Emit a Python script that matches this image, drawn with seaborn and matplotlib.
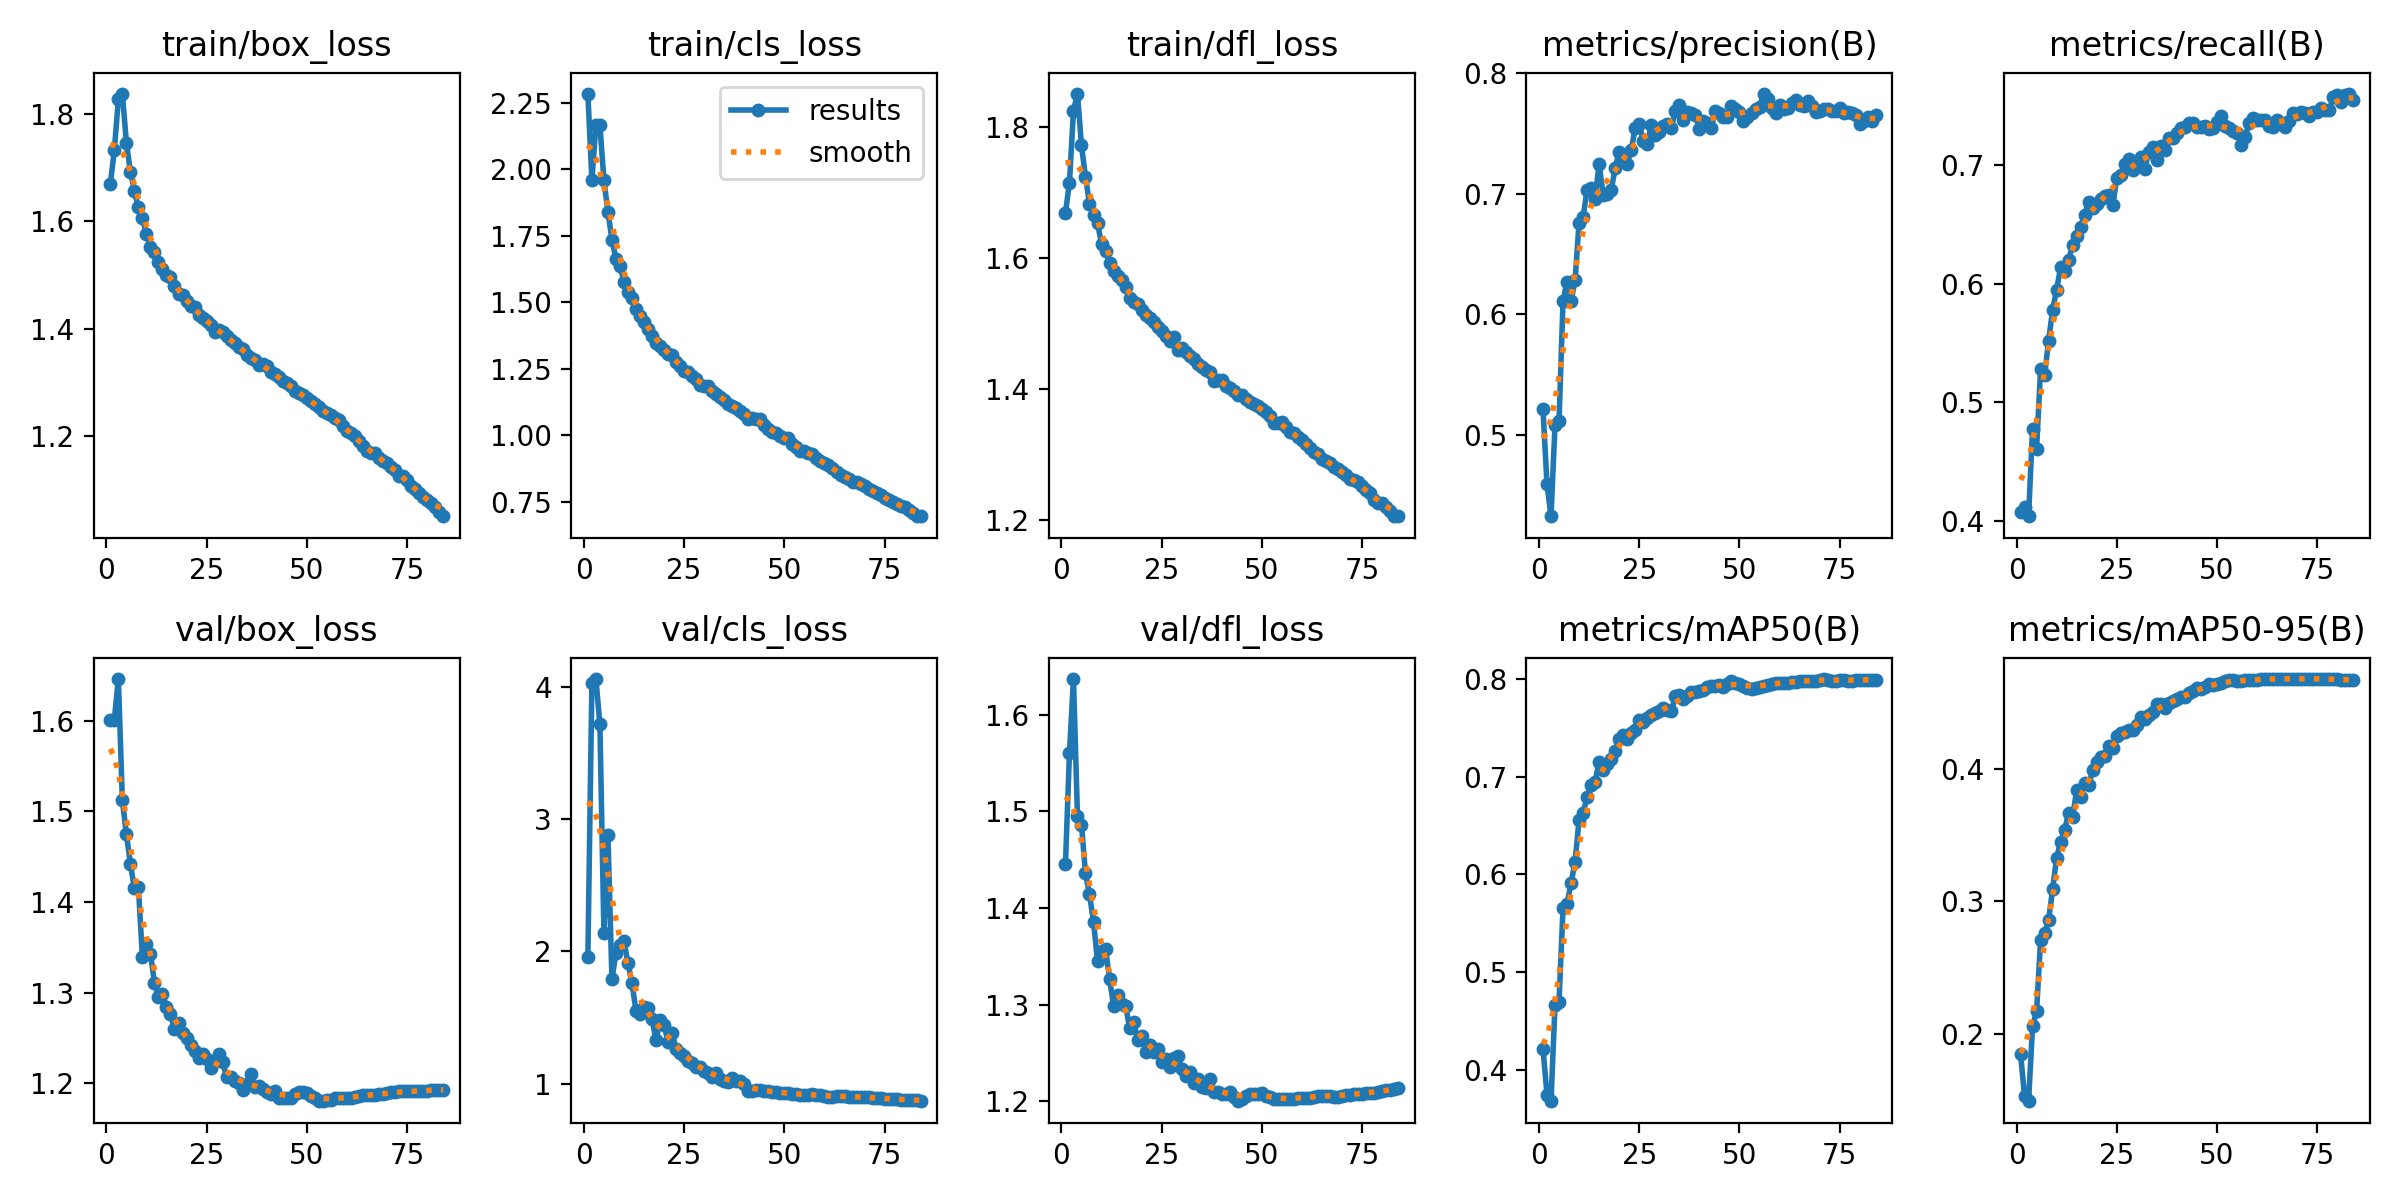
import numpy as np
import matplotlib
matplotlib.use("Agg")
import matplotlib.pyplot as plt
from matplotlib.ticker import MultipleLocator
import seaborn as sns

# epochs 1..84 of a YOLO training run
epochs = list(range(1, 85))

titles = ["train/box_loss", "train/cls_loss", "train/dfl_loss",
          "metrics/precision(B)", "metrics/recall(B)",
          "val/box_loss", "val/cls_loss", "val/dfl_loss",
          "metrics/mAP50(B)", "metrics/mAP50-95(B)"]

train_box_loss = [
    1.670, 1.733, 1.828, 1.838, 1.747, 1.693, 1.657, 1.626, 1.607, 1.576,
    1.553, 1.543, 1.524, 1.512, 1.500, 1.496, 1.479, 1.465, 1.462, 1.451,
    1.442, 1.440, 1.426, 1.420, 1.414, 1.407, 1.394, 1.398, 1.394, 1.387,
    1.379, 1.374, 1.366, 1.362, 1.351, 1.345, 1.341, 1.333, 1.334, 1.330,
    1.319, 1.315, 1.310, 1.302, 1.299, 1.293, 1.283, 1.281, 1.276, 1.270,
    1.265, 1.260, 1.254, 1.247, 1.242, 1.239, 1.234, 1.229, 1.218, 1.210,
    1.206, 1.200, 1.190, 1.182, 1.172, 1.169, 1.169, 1.159, 1.154, 1.150,
    1.143, 1.137, 1.126, 1.126, 1.117, 1.107, 1.101, 1.094, 1.087, 1.080,
    1.075, 1.067, 1.059, 1.050]

train_cls_loss = [
    2.284, 1.959, 2.165, 2.165, 1.959, 1.840, 1.736, 1.663, 1.637, 1.578,
    1.539, 1.516, 1.473, 1.447, 1.425, 1.401, 1.372, 1.348, 1.335, 1.322,
    1.306, 1.302, 1.276, 1.259, 1.243, 1.237, 1.224, 1.211, 1.191, 1.184,
    1.184, 1.167, 1.154, 1.145, 1.132, 1.119, 1.112, 1.102, 1.092, 1.079,
    1.062, 1.066, 1.062, 1.060, 1.040, 1.023, 1.014, 1.007, 0.997, 0.991,
    0.988, 0.968, 0.955, 0.942, 0.942, 0.935, 0.929, 0.915, 0.902, 0.896,
    0.889, 0.876, 0.863, 0.852, 0.843, 0.837, 0.826, 0.823, 0.817, 0.808,
    0.797, 0.791, 0.784, 0.777, 0.764, 0.758, 0.748, 0.742, 0.734, 0.732,
    0.721, 0.708, 0.695, 0.695]

train_dfl_loss = [
    1.669, 1.715, 1.825, 1.851, 1.772, 1.724, 1.683, 1.665, 1.653, 1.622,
    1.610, 1.593, 1.580, 1.572, 1.566, 1.556, 1.539, 1.532, 1.529, 1.521,
    1.513, 1.508, 1.502, 1.494, 1.489, 1.481, 1.473, 1.480, 1.460, 1.462,
    1.457, 1.450, 1.446, 1.438, 1.433, 1.429, 1.425, 1.412, 1.414, 1.413,
    1.404, 1.401, 1.396, 1.390, 1.391, 1.385, 1.380, 1.377, 1.374, 1.369,
    1.365, 1.359, 1.348, 1.348, 1.349, 1.342, 1.334, 1.332, 1.326, 1.322,
    1.316, 1.310, 1.304, 1.300, 1.293, 1.289, 1.286, 1.281, 1.278, 1.273,
    1.268, 1.262, 1.260, 1.257, 1.252, 1.246, 1.241, 1.230, 1.226, 1.225,
    1.220, 1.214, 1.205, 1.206]

precision = [
    0.521, 0.459, 0.432, 0.508, 0.511, 0.611, 0.627, 0.611, 0.628, 0.676,
    0.681, 0.703, 0.705, 0.696, 0.725, 0.699, 0.700, 0.703, 0.721, 0.735,
    0.729, 0.725, 0.736, 0.755, 0.758, 0.744, 0.741, 0.757, 0.749, 0.751,
    0.756, 0.758, 0.755, 0.769, 0.774, 0.761, 0.768, 0.767, 0.765, 0.754,
    0.760, 0.759, 0.755, 0.769, 0.767, 0.764, 0.764, 0.773, 0.770, 0.768,
    0.760, 0.764, 0.767, 0.770, 0.772, 0.783, 0.779, 0.771, 0.767, 0.774,
    0.770, 0.771, 0.775, 0.778, 0.774, 0.773, 0.777, 0.773, 0.768, 0.769,
    0.770, 0.770, 0.769, 0.769, 0.771, 0.767, 0.768, 0.767, 0.765, 0.758,
    0.760, 0.764, 0.760, 0.765]

recall = [
    0.408, 0.412, 0.404, 0.478, 0.461, 0.528, 0.523, 0.552, 0.578, 0.595,
    0.614, 0.611, 0.620, 0.633, 0.640, 0.648, 0.658, 0.669, 0.664, 0.667,
    0.671, 0.674, 0.675, 0.666, 0.689, 0.692, 0.701, 0.705, 0.696, 0.702,
    0.707, 0.697, 0.711, 0.715, 0.704, 0.716, 0.713, 0.723, 0.723, 0.727,
    0.731, 0.732, 0.735, 0.735, 0.732, 0.732, 0.733, 0.730, 0.731, 0.736,
    0.741, 0.733, 0.731, 0.729, 0.727, 0.717, 0.724, 0.735, 0.740, 0.738,
    0.738, 0.738, 0.733, 0.732, 0.738, 0.735, 0.732, 0.737, 0.744, 0.743,
    0.745, 0.744, 0.741, 0.745, 0.745, 0.748, 0.746, 0.746, 0.757, 0.759,
    0.753, 0.759, 0.760, 0.755]

val_box_loss = [
    1.601, 1.601, 1.646, 1.512, 1.475, 1.442, 1.415, 1.416, 1.339, 1.354,
    1.343, 1.311, 1.295, 1.299, 1.284, 1.276, 1.260, 1.266, 1.255, 1.250,
    1.242, 1.236, 1.228, 1.232, 1.227, 1.217, 1.225, 1.232, 1.223, 1.207,
    1.207, 1.203, 1.200, 1.193, 1.199, 1.210, 1.196, 1.197, 1.194, 1.190,
    1.188, 1.192, 1.184, 1.184, 1.184, 1.184, 1.188, 1.190, 1.190, 1.189,
    1.186, 1.184, 1.180, 1.180, 1.182, 1.182, 1.184, 1.184, 1.184, 1.184,
    1.184, 1.185, 1.186, 1.187, 1.187, 1.187, 1.187, 1.188, 1.188, 1.189,
    1.190, 1.190, 1.191, 1.191, 1.191, 1.191, 1.191, 1.191, 1.192, 1.192,
    1.193, 1.193, 1.193, 1.193]

val_cls_loss = [
    1.960, 4.030, 4.060, 3.715, 2.137, 2.876, 1.789, 1.987, 2.047, 2.079,
    1.908, 1.757, 1.551, 1.525, 1.578, 1.573, 1.485, 1.327, 1.478, 1.446,
    1.314, 1.380, 1.261, 1.230, 1.208, 1.169, 1.156, 1.124, 1.129, 1.098,
    1.077, 1.050, 1.082, 1.037, 1.018, 1.010, 1.045, 1.023, 1.018, 0.995,
    0.942, 0.942, 0.955, 0.953, 0.947, 0.942, 0.937, 0.935, 0.932, 0.930,
    0.927, 0.924, 0.922, 0.916, 0.916, 0.914, 0.922, 0.916, 0.911, 0.905,
    0.902, 0.902, 0.905, 0.905, 0.905, 0.902, 0.900, 0.900, 0.897, 0.897,
    0.895, 0.892, 0.892, 0.890, 0.887, 0.884, 0.884, 0.881, 0.879, 0.879,
    0.879, 0.876, 0.876, 0.865]

val_dfl_loss = [
    1.445, 1.560, 1.637, 1.495, 1.486, 1.436, 1.414, 1.386, 1.345, 1.356,
    1.358, 1.327, 1.299, 1.310, 1.301, 1.299, 1.276, 1.282, 1.264, 1.268,
    1.251, 1.258, 1.251, 1.254, 1.241, 1.244, 1.236, 1.245, 1.247, 1.234,
    1.226, 1.230, 1.219, 1.223, 1.215, 1.214, 1.223, 1.210, 1.210, 1.208,
    1.208, 1.210, 1.205, 1.200, 1.203, 1.206, 1.208, 1.208, 1.208, 1.209,
    1.206, 1.205, 1.203, 1.202, 1.202, 1.202, 1.202, 1.203, 1.204, 1.204,
    1.204, 1.204, 1.205, 1.206, 1.206, 1.206, 1.206, 1.205, 1.205, 1.206,
    1.207, 1.207, 1.208, 1.208, 1.208, 1.209, 1.209, 1.209, 1.210, 1.211,
    1.212, 1.212, 1.213, 1.214]

map50 = [
    0.422, 0.375, 0.368, 0.467, 0.470, 0.566, 0.570, 0.591, 0.613, 0.656,
    0.663, 0.679, 0.691, 0.695, 0.715, 0.707, 0.713, 0.718, 0.726, 0.738,
    0.743, 0.738, 0.745, 0.748, 0.758, 0.756, 0.760, 0.763, 0.765, 0.767,
    0.770, 0.768, 0.767, 0.782, 0.783, 0.779, 0.782, 0.786, 0.786, 0.788,
    0.789, 0.792, 0.793, 0.793, 0.794, 0.792, 0.795, 0.798, 0.796, 0.795,
    0.793, 0.791, 0.790, 0.791, 0.792, 0.793, 0.794, 0.795, 0.796, 0.796,
    0.796, 0.796, 0.797, 0.797, 0.798, 0.798, 0.798, 0.798, 0.798, 0.799,
    0.800, 0.799, 0.798, 0.798, 0.799, 0.799, 0.798, 0.798, 0.799, 0.799,
    0.799, 0.799, 0.799, 0.799]

map50_95 = [
    0.185, 0.153, 0.149, 0.206, 0.217, 0.271, 0.276, 0.286, 0.309, 0.333,
    0.345, 0.354, 0.367, 0.364, 0.384, 0.379, 0.389, 0.388, 0.399, 0.405,
    0.409, 0.410, 0.417, 0.416, 0.425, 0.427, 0.428, 0.429, 0.429, 0.433,
    0.439, 0.438, 0.441, 0.443, 0.449, 0.449, 0.446, 0.450, 0.451, 0.453,
    0.454, 0.454, 0.457, 0.459, 0.461, 0.460, 0.462, 0.464, 0.463, 0.464,
    0.465, 0.466, 0.467, 0.467, 0.466, 0.466, 0.467, 0.467, 0.467, 0.467,
    0.468, 0.468, 0.468, 0.468, 0.468, 0.468, 0.468, 0.468, 0.468, 0.468,
    0.468, 0.468, 0.468, 0.468, 0.468, 0.468, 0.468, 0.468, 0.468, 0.468,
    0.467, 0.467, 0.467, 0.467]

series = [train_box_loss, train_cls_loss, train_dfl_loss, precision, recall,
          val_box_loss, val_cls_loss, val_dfl_loss, map50, map50_95]

# y tick spacing used in each panel of the original
ytick_steps = [0.2, 0.25, 0.2, 0.1, 0.1, 0.1, 1, 0.1, 0.1, 0.1]


def gaussian_smooth(y, sigma=3.0):
    # same as scipy.ndimage.gaussian_filter1d (mode='reflect', truncate=4)
    y = np.asarray(y, dtype=float)
    r = int(4.0 * sigma + 0.5)
    k = np.exp(-0.5 * (np.arange(-r, r + 1) / sigma) ** 2)
    k /= k.sum()
    padded = np.pad(y, r, mode="symmetric")
    return np.convolve(padded, k, mode="valid")


blue, orange = sns.color_palette("tab10")[:2]

fig, axes = plt.subplots(2, 5, figsize=(12, 6), dpi=200)
axes = axes.ravel()

for i, ax in enumerate(axes):
    y = series[i]
    sns.lineplot(x=epochs, y=y, ax=ax, color=blue, marker=".", markersize=8,
                 markeredgecolor=blue, markeredgewidth=1.0, linewidth=2,
                 label="results", legend=False)
    sns.lineplot(x=epochs, y=gaussian_smooth(y), ax=ax, color=orange,
                 linestyle=":", linewidth=2, label="smooth", legend=False)
    ax.set_title(titles[i], fontsize=12)
    ax.set_xlabel("")
    ax.set_ylabel("")
    ax.yaxis.set_major_locator(MultipleLocator(ytick_steps[i]))

axes[1].legend()

plt.tight_layout()
plt.savefig("out.png", dpi=200)
